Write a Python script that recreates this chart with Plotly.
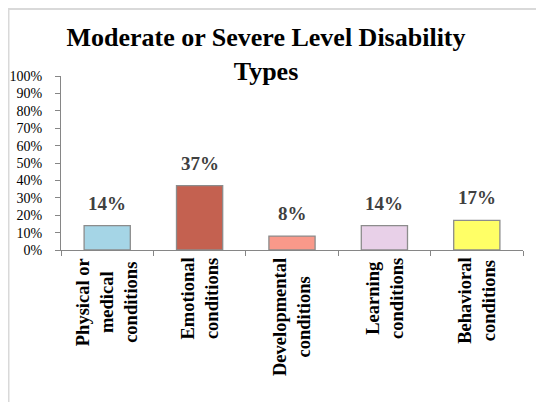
import plotly.graph_objects as go

categories = ["Physical or<br>medical<br>conditions", "Emotional<br>conditions",
              "Developmental<br>conditions", "Learning<br>conditions", "Behavioral<br>conditions"]
values = [0.14, 0.37, 0.08, 0.14, 0.17]
value_labels = ["14%", "37%", "8%", "14%", "17%"]
bar_colors = ["#A5D5E6", "#C46150", "#F9998A", "#E8D0E8", "#FFFF66"]
tick_vals = [i / 10 for i in range(11)]
tick_text = [f"{i*10}%" for i in range(11)]

# page has an 8px body margin, so the figure is sized to fit the window
W, H = 536, 394
ml, mr, mt, mb = 53, 21, 68, 152
pw, ph = W - ml - mr, H - mt - mb

fig = go.Figure()
fig.add_trace(go.Bar(
    x=categories, y=values,
    marker=dict(color=bar_colors, line=dict(color="#8C8C8C", width=1.3)),
    width=0.5, showlegend=False, hoverinfo="skip",
))

for c, v, t in zip(categories, values, value_labels):
    fig.add_annotation(x=c, y=v, text=f"<b>{t}</b>", showarrow=False,
                       yanchor="bottom", yshift=10,
                       font=dict(family="Liberation Serif", size=19, color="#404040"))

# category labels, rotated, with centred lines
for c in categories:
    fig.add_annotation(x=c, y=0, text=f"<b>{c}</b>", showarrow=False,
                       textangle=-90, align="center",
                       xanchor="center", yanchor="top", yshift=-6, xshift=0,
                       font=dict(family="Liberation Serif", size=18.5, color="black"))

def px_x(p):
    return (p - ml) / pw

def px_y(p):
    return (H - mb - p) / ph

# outer light border (left and top edges visible)
fig.add_shape(type="line", xref="paper", yref="paper",
              x0=px_x(0), x1=px_x(560), y0=px_y(1), y1=px_y(1),
              line=dict(color="#D9D9D9", width=2))
fig.add_shape(type="line", xref="paper", yref="paper",
              x0=px_x(0.5), x1=px_x(0.5), y0=px_y(0), y1=px_y(420),
              line=dict(color="#D9D9D9", width=2))

fig.update_layout(
    width=W, height=H,
    margin=dict(l=ml, r=mr, t=mt, b=mb, autoexpand=False),
    paper_bgcolor="white", plot_bgcolor="white",
    title=dict(text="<b>Moderate or Severe Level Disability<br>Types</b>",
               x=258 / W, xanchor="center", y=1 - 38 / H, yanchor="top",
               font=dict(family="Liberation Serif", size=26, color="black")),
    font=dict(family="Liberation Serif", color="black"),
)
fig.update_xaxes(
    showline=True, linecolor="#868686", linewidth=1.3,
    ticks="outside", tickson="boundaries", ticklen=5, tickcolor="#868686",
    showticklabels=False, showgrid=False, fixedrange=True,
)
fig.update_yaxes(
    range=[0, 1], tickvals=tick_vals, ticktext=tick_text,
    showline=True, linecolor="#868686", linewidth=1.3,
    ticks="outside", ticklen=5, tickcolor="#868686", ticklabelstandoff=10,
    tickfont=dict(family="Liberation Serif", size=14, color="black"),
    showgrid=False, zeroline=False, fixedrange=True,
)

fig.write_html("out.html")
